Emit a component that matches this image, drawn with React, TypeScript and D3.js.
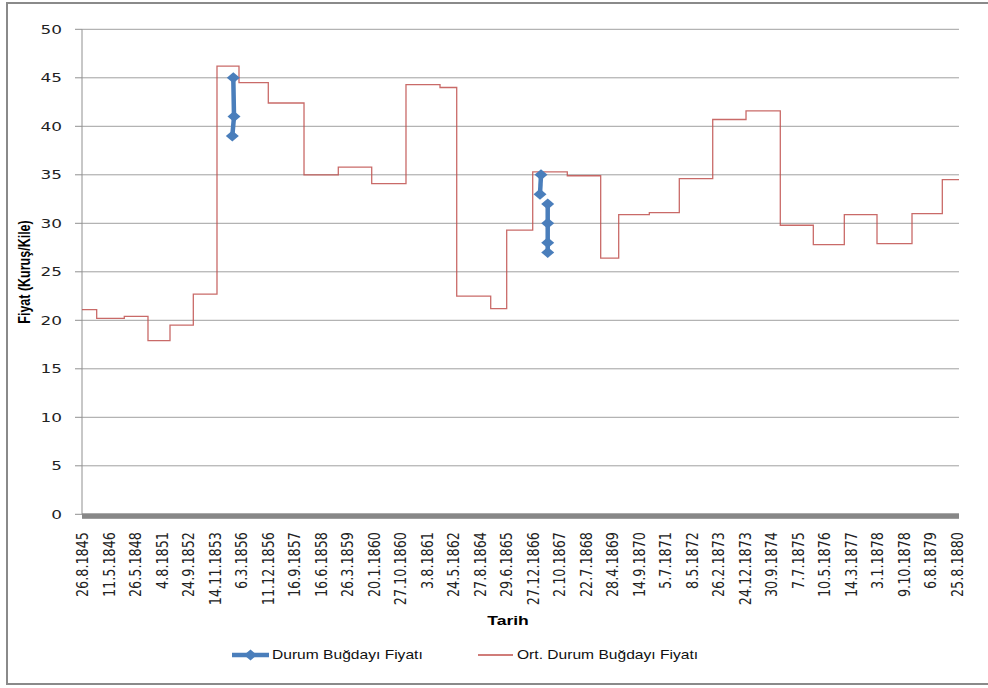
import React from "react";
import * as d3 from "d3";

const dateLabels = [
  "26.8.1845", "11.5.1846", "26.5.1848", "4.8.1851", "24.9.1852", "14.11.1853",
  "6.3.1856", "11.12.1856", "16.9.1857", "16.6.1858", "26.3.1859", "20.1.1860",
  "27.10.1860", "3.8.1861", "24.5.1862", "27.8.1864", "29.6.1865", "27.12.1866",
  "2.10.1867", "22.7.1868", "28.4.1869", "14.9.1870", "5.7.1871", "8.5.1872",
  "26.2.1873", "24.12.1873", "30.9.1874", "7.7.1875", "10.5.1876", "14.3.1877",
  "3.1.1878", "9.10.1878", "6.8.1879", "25.8.1880",
];

// Average price step series: position (in date-label units) where each level starts, and its value
const avgStarts = [
  0, 0.554, 1.595, 2.489, 3.319, 4.198, 5.091, 5.921, 7.026, 8.373, 9.666,
  10.926, 12.219, 13.502, 14.132, 15.414, 16.017, 16.998, 18.303, 19.562,
  20.241, 21.396, 22.527, 23.787, 25.043, 26.336, 27.581, 28.75, 29.983,
  31.303, 32.446,
];
const avgValues = [
  21.1, 20.2, 20.4, 17.9, 19.5, 22.7, 46.2, 44.5, 42.4, 35.0, 35.8, 34.1, 44.3,
  44.0, 22.5, 21.2, 29.3, 35.3, 34.9, 26.4, 30.9, 31.1, 34.6, 40.7, 41.6, 29.8,
  27.8, 30.9, 27.9, 31.0, 34.5,
];
const avgEnd = 33.075;

// Observed prices (Durum Buğdayı Fiyatı), in connected groups
const priceGroup1Pos = [5.706, 5.733, 5.669];
const priceGroup1Val = [45, 41, 39];
const priceGroup2Pos = [17.311, 17.273];
const priceGroup2Val = [35, 33];
const priceGroup3Pos = [17.564, 17.564, 17.564, 17.564];
const priceGroup3Val = [32, 30, 28, 27];

const yTicks = [0, 5, 10, 15, 20, 25, 30, 35, 40, 45, 50];

const RED = "#c0504d";
const BLUE = "#4a7ebb";
const SX = 1.3;

export default function App() {
  const x = d3.scaleLinear().domain([0, dateLabels.length - 1]).range([82, 957]);
  const y = d3.scaleLinear().domain([0, 50]).range([514.3, 29.3]);
  const plotLeft = x(0);
  const plotRight = x(avgEnd);

  const stepPts: [number, number][] = avgStarts.map((s, i) => [s, avgValues[i]]);
  stepPts.push([avgEnd, avgValues[avgValues.length - 1]]);
  const stepLine = d3
    .line<[number, number]>()
    .x((d) => x(d[0]))
    .y((d) => y(d[1]))
    .curve(d3.curveStepAfter);

  const groups = [
    priceGroup1Pos.map((p, i) => [p, priceGroup1Val[i]] as [number, number]),
    priceGroup2Pos.map((p, i) => [p, priceGroup2Val[i]] as [number, number]),
    priceGroup3Pos.map((p, i) => [p, priceGroup3Val[i]] as [number, number]),
  ];
  const plainLine = d3
    .line<[number, number]>()
    .x((d) => x(d[0]))
    .y((d) => y(d[1]));

  const diamond = (cx: number, cy: number, rx: number, ry: number) =>
    `M${cx},${cy - ry}L${cx + rx},${cy}L${cx},${cy + ry}L${cx - rx},${cy}Z`;

  const tickFont = "'DejaVu Sans', sans-serif";
  const labelFont = "'Liberation Sans', Arial, sans-serif";

  return (
    <div style={{ position: "absolute", left: 0, top: 0 }}>
      <svg width={988} height={688} style={{ display: "block", background: "#fff" }}>
        {/* outer frame */}
        <rect x={7} y={3} width={1000} height={681} fill="none" stroke="#8a8a8a" strokeWidth={2} />

        {/* horizontal grid */}
        {yTicks.filter((t) => t > 0).map((t) => (
          <line key={t} x1={plotLeft} x2={plotRight} y1={y(t)} y2={y(t)} stroke="#a0a0a0" strokeWidth={1} />
        ))}
        {/* y axis */}
        <line x1={plotLeft} x2={plotLeft} y1={y(50)} y2={y(0)} stroke="#909090" strokeWidth={1} />
        {yTicks.map((t) => (
          <line key={"t" + t} x1={plotLeft - 7} x2={plotLeft} y1={y(t)} y2={y(t)} stroke="#909090" strokeWidth={1} />
        ))}
        {yTicks.map((t) => (
          <g key={"l" + t} transform={`translate(62,${y(t)}) scale(${SX},1)`}>
            <text textAnchor="end" dy="0.36em" fontFamily={tickFont} fontSize={13} fill="#222">
              {t}
            </text>
          </g>
        ))}

        {/* x axis thick bar */}
        <rect x={plotLeft} y={y(0) - 1} width={plotRight - plotLeft} height={5.5} fill="#878787" />
        {dateLabels.map((d, i) => (
          <g key={d} transform={`translate(${x(i)},532) scale(${SX},1) rotate(-90)`}>
            <text textAnchor="end" dy="0.36em" fontFamily={tickFont} fontSize={12.8} fill="#222">
              {d}
            </text>
          </g>
        ))}

        {/* average step line */}
        <path d={stepLine(stepPts) || ""} fill="none" stroke={RED} strokeWidth={1.3} strokeOpacity={0.85} />

        {/* observed prices */}
        {groups.map((g, gi) => (
          <g key={gi}>
            <path d={plainLine(g) || ""} fill="none" stroke={BLUE} strokeWidth={4.5} />
            {g.map((p, pi) => (
              <path key={pi} d={diamond(x(p[0]), y(p[1]), 6.5, 5.5)} fill={BLUE} />
            ))}
          </g>
        ))}

        {/* axis titles */}
        <g transform={`translate(24,272) scale(${SX},1) rotate(-90)`}>
          <text textAnchor="middle" dy="0.36em" fontFamily={labelFont} fontWeight="bold" fontSize={12.5} fill="#000">
            Fiyat (Kuruş/Kile)
          </text>
        </g>
        <g transform={`translate(508,620) scale(${SX},1)`}>
          <text textAnchor="middle" dy="0.36em" fontFamily={labelFont} fontWeight="bold" fontSize={13.5} fill="#000">
            Tarih
          </text>
        </g>

        {/* legend */}
        <line x1={232} x2={269} y1={655} y2={655} stroke={BLUE} strokeWidth={4.5} />
        <path d={diamond(250.5, 655, 6.5, 5.5)} fill={BLUE} />
        <g transform={`translate(272,655) scale(${SX},1)`}>
          <text dy="0.36em" fontFamily={labelFont} fontSize={12} fill="#111">
            Durum Buğdayı Fiyatı
          </text>
        </g>
        <line x1={478} x2={513} y1={655} y2={655} stroke={RED} strokeWidth={1.3} />
        <g transform={`translate(517,655) scale(${SX},1)`}>
          <text dy="0.36em" fontFamily={labelFont} fontSize={12} fill="#111">
            Ort. Durum Buğdayı Fiyatı
          </text>
        </g>
      </svg>
    </div>
  );
}
